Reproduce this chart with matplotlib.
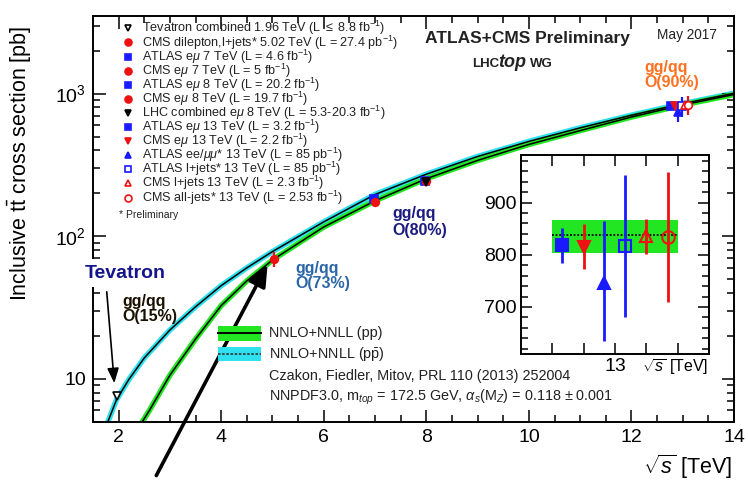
import matplotlib
matplotlib.use('Agg')
import matplotlib.pyplot as plt
from matplotlib.patches import Rectangle
from matplotlib.lines import Line2D
from matplotlib.ticker import FixedLocator, MultipleLocator, NullFormatter, FuncFormatter, LogLocator

plt.rcParams['font.family'] = ['Liberation Sans', 'DejaVu Sans']
plt.rcParams['mathtext.fontset'] = 'custom'
plt.rcParams['mathtext.rm'] = 'Liberation Sans'
plt.rcParams['mathtext.it'] = 'Liberation Sans:italic'
plt.rcParams['mathtext.bf'] = 'Liberation Sans:bold'

# theory curves NNLO+NNLL
pp_sqrts = [2.4, 2.6, 3.0, 3.5, 4.0, 4.5, 5.02, 6.0, 7.0, 8.0, 9.0, 10.0, 11.0, 12.0, 13.0, 14.0]
pp_xsec = [4.6, 6.0, 10.6, 19.0, 32.6, 48.6, 68.9, 116, 177, 253, 340, 440, 550, 685, 832, 985]
ppbar_sqrts = [1.7, 1.8, 1.96, 2.2, 2.5, 3.0, 3.5, 4.0, 4.5, 5.0, 6.0, 7.0, 8.0, 9.0, 10.0, 11.0, 12.0, 13.0, 14.0]
ppbar_xsec = [4.2, 5.1, 7.16, 9.9, 14.0, 22.0, 32.0, 45.0, 60.0, 78.0, 126, 196, 272, 362, 462, 575, 705, 850, 1005]

# measurements
labels = [
    r'Tevatron combined 1.96 TeV (L $\leq$ 8.8 fb$^{-1}$)',
    r'CMS dilepton,l+jets* 5.02 TeV (L = 27.4 pb$^{-1}$)',
    r'ATLAS e$\mu$ 7 TeV (L = 4.6 fb$^{-1}$)',
    r'CMS e$\mu$ 7 TeV (L = 5 fb$^{-1}$)',
    r'ATLAS e$\mu$ 8 TeV (L = 20.2 fb$^{-1}$)',
    r'CMS e$\mu$ 8 TeV (L = 19.7 fb$^{-1}$)',
    r'LHC combined e$\mu$ 8 TeV (L = 5.3-20.3 fb$^{-1}$)',
    r'ATLAS e$\mu$ 13 TeV (L = 3.2 fb$^{-1}$)',
    r'CMS e$\mu$ 13 TeV (L = 2.2 fb$^{-1}$)',
    r'ATLAS ee/$\mu\mu$* 13 TeV (L = 85 pb$^{-1}$)',
    r'ATLAS l+jets* 13 TeV (L = 85 pb$^{-1}$)',
    r'CMS l+jets 13 TeV (L = 2.3 fb$^{-1}$)',
    r'CMS all-jets* 13 TeV (L = 2.53 fb$^{-1}$)',
]
meas_sqrts = [1.96, 5.02, 6.98, 7.0, 7.98, 8.0, 8.0, 12.78, 12.84, 12.9, 12.98, 13.04, 13.1]
meas_xsec = [7.60, 69.5, 182.9, 173.6, 242.9, 244.9, 241.5, 818, 815, 746, 817, 835, 834]
meas_err = [0.41, 8.4, 7.1, 6.5, 8.8, 9.6, 8.5, 34, 43, 115, 136, 33, 125]

# zoom at 13 TeV
inset_sqrts = [12.916, 12.95, 12.982, 13.016, 13.05, 13.084]
inset_xsec = [818, 815, 746, 817, 835, 834]
inset_err_up = [34, 43, 118, 136, 33, 125]
inset_err_dn = [33, 42, 112, 136, 33, 125]
theory13 = 838
theory13_lo = 804
theory13_hi = 867

RED = '#ee1111'
BLUE = '#1a1aff'
GREEN = '#22e622'
CYAN = '#2fe0ee'
INK = '#222222'
markers = ['v', 'o', 's', 'o', 's', 'o', 'v', 's', 'v', '^', 's', '^', 'o']
colors = ['black', RED, BLUE, RED, BLUE, RED, 'black', BLUE, RED, BLUE, BLUE, RED, RED]
filled = [False, True, True, True, True, True, True, True, True, True, False, False, False]

W, H = 748, 483
fig = plt.figure(figsize=(W / 100, H / 100), dpi=100)


def fx(px):
    return px / W


def fy(py):
    return 1 - py / H


ax = fig.add_axes([fx(93), fy(421.7), fx(734) - fx(93), fy(16) - fy(421.7)])
ax.set_xlim(1.5, 14)
ax.set_yscale('log')
ax.set_ylim(5, 3500)

ax.plot(ppbar_sqrts, ppbar_xsec, color=CYAN, lw=4, solid_capstyle='butt', zorder=1)
ax.plot(pp_sqrts, pp_xsec, color=GREEN, lw=4, solid_capstyle='butt', zorder=2)
ax.plot(ppbar_sqrts, ppbar_xsec, color='black', lw=1.1, zorder=3)
ax.plot(pp_sqrts, pp_xsec, color='black', lw=1.1, zorder=3)

for i in range(len(meas_sqrts)):
    ax.errorbar(meas_sqrts[i], meas_xsec[i], yerr=meas_err[i], fmt=markers[i],
                color=colors[i], mfc=colors[i] if filled[i] else 'white',
                mec=colors[i], ms=5.5, mew=1.2, elinewidth=1.6, capsize=0, zorder=5)

ax.xaxis.set_major_locator(MultipleLocator(2))
ax.xaxis.set_minor_locator(MultipleLocator(0.5))
ax.yaxis.set_major_locator(FixedLocator([10, 100, 1000]))
ax.yaxis.set_minor_locator(LogLocator(base=10, subs=range(2, 10)))
ax.yaxis.set_minor_formatter(NullFormatter())
ax.yaxis.set_major_formatter(FuncFormatter(
    lambda v, p: {10: '10', 100: r'$10^2$', 1000: r'$10^3$'}.get(int(round(v)), '')))
ax.tick_params(which='both', direction='in', top=True, right=True, labelsize=14, width=1.1)
ax.tick_params(which='major', length=9, pad=5)
ax.tick_params(which='minor', length=5)
for s in ax.spines.values():
    s.set_linewidth(1.4)

ax.set_ylabel(r'Inclusive $\mathrm{t\bar{t}}$ cross section [pb]', fontsize=15.5, va='center')
ax.yaxis.set_label_coords(-0.114, 0.638)
fig.text(fx(732), fy(467), r'$\sqrt{s}$ [TeV]', fontsize=15.5, ha='right', va='center')

# measurement legend
for i in range(len(labels)):
    yy = 28.3 + i * 14.1
    fig.add_artist(Line2D([fx(128)], [fy(yy)], marker=markers[i], ls='none', ms=5,
                          color=colors[i], mfc=colors[i] if filled[i] else 'white', mew=1.2))
    fig.text(fx(142), fy(yy), labels[i], fontsize=9.1, va='center', ha='left', color=INK)
fig.text(fx(119), fy(215), '* Preliminary', fontsize=7.5, va='center', color=INK)

# headers
fig.text(fx(425), fy(38), 'ATLAS+CMS Preliminary', fontsize=12.5, fontweight='bold', va='center', color=INK)
fig.text(fx(657), fy(35), 'May 2017', fontsize=9.8, va='center', color=INK)
fig.text(fx(472), fy(67), 'LHC', fontsize=9.5, fontweight='bold', va='baseline', color=INK)
fig.text(fx(498.5), fy(67), 'top', fontsize=13, fontweight='bold', style='italic', va='baseline', color=INK)
fig.text(fx(530), fy(67), 'WG', fontsize=9.5, fontweight='bold', va='baseline', color=INK)

# annotations
fig.text(fx(644), fy(75), 'gg/qq\nO(90%)', fontsize=11.5, fontweight='bold', color='#ff7020',
         va='center', linespacing=1.05)
fig.text(fx(392), fy(222), 'gg/qq\nO(80%)', fontsize=11.5, fontweight='bold', color='#1a1a80',
         va='center', linespacing=1.2)
fig.text(fx(295), fy(276), 'gg/qq\nO(73%)', fontsize=11.5, fontweight='bold', color='#2a66a8',
         va='center', linespacing=1.05)
fig.text(fx(122), fy(309), 'gg/qq\nO(15%)', fontsize=11.5, fontweight='bold', color='#1a1000',
         va='center', linespacing=1.05)
fig.text(fx(125), fy(273), 'Tevatron', fontsize=14, fontweight='bold', color='#14148c',
         ha='center', va='center', zorder=10,
         bbox=dict(boxstyle='square,pad=0.3', fc='white', ec='none'))

ax.annotate('', xy=(1.92, 8.9), xytext=(fx(106.5), fy(289)), textcoords='figure fraction',
            arrowprops=dict(arrowstyle='-|>,head_length=0.9,head_width=0.35', color='black', lw=1.2),
            annotation_clip=False, zorder=6)
ax.annotate('', xy=(4.93, 66), xytext=(fx(155), fy(478)), textcoords='figure fraction',
            arrowprops=dict(arrowstyle='-|>,head_length=1.3,head_width=0.55', color='black', lw=2.6),
            annotation_clip=False, zorder=6)

# theory legend
fig.add_artist(Rectangle((fx(218), fy(340.7)), fx(261) - fx(218), fy(325.7) - fy(340.7),
                         transform=fig.transFigure, fc=GREEN, ec='none'))
fig.add_artist(Line2D([fx(218), fx(261)], [fy(333), fy(333)], color='black', lw=1.4))
fig.add_artist(Rectangle((fx(218), fy(361)), fx(261) - fx(218), fy(346.7) - fy(361),
                         transform=fig.transFigure, fc=CYAN, ec='none'))
fig.add_artist(Line2D([fx(218), fx(261)], [fy(354), fy(354)], color='#333333', lw=1.2, ls=(0, (1.5, 1))))
fig.text(fx(269), fy(333), 'NNLO+NNLL (pp)', fontsize=10.4, va='center', color=INK)
fig.text(fx(269), fy(354), r'NNLO+NNLL (p$\mathrm{\bar{p}}$)', fontsize=10.4, va='center', color=INK)
fig.text(fx(269), fy(376), 'Czakon, Fiedler, Mitov, PRL 110 (2013) 252004', fontsize=10.4,
         va='center', color=INK)
fig.text(fx(269), fy(397), r'NNPDF3.0, m$_{top}$ = 172.5 GeV, $\alpha_{s}$(M$_{Z}$) = 0.118 $\pm$ 0.001',
         fontsize=10.4, va='center', color=INK)

# inset
axi = fig.add_axes([fx(521), fy(354), fx(709) - fx(521), fy(155) - fy(354)])
axi.set_xlim(12.85, 13.15)
axi.set_ylim(610, 991)
axi.add_patch(Rectangle((12.9, theory13_lo), 0.2, theory13_hi - theory13_lo, fc=GREEN, ec='none', zorder=1))
axi.plot([12.9, 13.1], [theory13, theory13], color='black', lw=1.3, ls=(0, (1, 1)), zorder=2)
for j in range(len(inset_sqrts)):
    k = 7 + j
    axi.errorbar(inset_sqrts[j], inset_xsec[j], yerr=[[inset_err_dn[j]], [inset_err_up[j]]],
                 fmt=markers[k], color=colors[k], mfc=colors[k] if filled[k] else 'none',
                 mec=colors[k], ms=9, mew=1.5, elinewidth=2, capsize=0, zorder=5)
axi.xaxis.set_major_locator(FixedLocator([12.9, 12.95, 13.0, 13.05, 13.1]))
axi.xaxis.set_major_formatter(FuncFormatter(lambda v, p: '13' if abs(v - 13) < 1e-6 else ''))
axi.yaxis.set_major_locator(FixedLocator([700, 800, 900]))
axi.yaxis.set_minor_locator(MultipleLocator(20))
axi.tick_params(which='both', direction='in', top=True, right=True, labelsize=14, width=1.1)
axi.tick_params(which='major', length=8, pad=3)
axi.tick_params(which='minor', length=5)
for s in axi.spines.values():
    s.set_linewidth(1.4)
fig.text(fx(708), fy(367), r'$\sqrt{s}$ [TeV]', fontsize=11.5, ha='right', va='center')

fig.savefig('out.png', dpi=100)
